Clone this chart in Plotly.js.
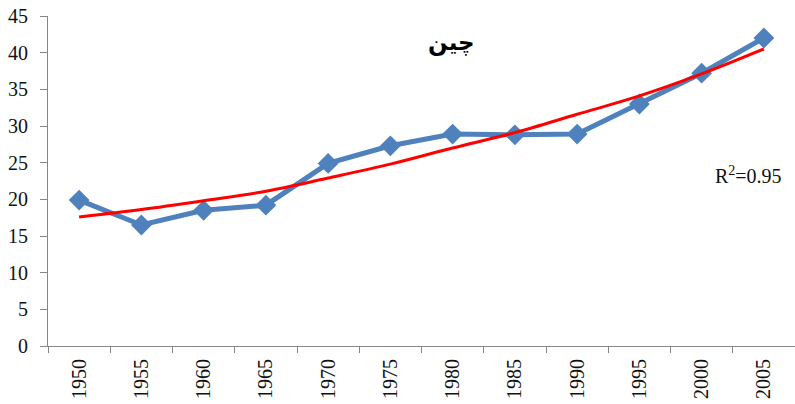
<!DOCTYPE html>
<html>
<head>
<meta charset="utf-8">
<script src="https://cdn.plot.ly/plotly-3.0.1.min.js"></script>
<style>html,body{margin:0;padding:0;background:#fff;}#chart{width:795px;height:404px;}</style>
</head>
<body>
<div id="chart"></div>
<script>
const years = ['1950','1955','1960','1965','1970','1975','1980','1985','1990','1995','2000','2005'];
const values = [19.9, 16.5, 18.5, 19.2, 24.9, 27.3, 28.9, 28.8, 28.9, 33.0, 37.2, 42.0];
const trend = [17.6, 18.6, 19.8, 21.1, 22.9, 24.8, 27.0, 29.1, 31.6, 34.1, 37.1, 40.5];
const titleText = 'چین';
const r2Text = 'R<sup>2</sup>=0.95';

const serif = 'Liberation Serif, Times New Roman, serif';

const data = [
  {
    x: years, y: values, type: 'scatter', mode: 'lines+markers',
    line: {color: '#4F81BD', width: 5},
    marker: {symbol: 'diamond', size: 16, color: '#4F81BD'},
    hoverinfo: 'x+y'
  },
  {
    x: years, y: trend, type: 'scatter', mode: 'lines',
    line: {color: '#FF0000', width: 3, shape: 'spline'},
    hoverinfo: 'skip'
  }
];

const layout = {
  width: 795, height: 404,
  margin: {l: 48, r: 0, t: 16, b: 58},
  paper_bgcolor: '#fff', plot_bgcolor: '#fff',
  showlegend: false,
  xaxis: {
    type: 'category', range: [-0.5, 11.5],
    showgrid: false, zeroline: false,
    showline: true, linecolor: '#868686', linewidth: 1,
    ticks: 'outside', tickson: 'boundaries', ticklen: 6, tickcolor: '#868686',
    tickangle: -90, ticklabelstandoff: 4,
    tickfont: {family: serif, size: 20, color: '#111'}
  },
  yaxis: {
    range: [0, 45], dtick: 5, tick0: 0,
    showgrid: false, zeroline: false,
    showline: true, linecolor: '#868686', linewidth: 1,
    ticks: 'outside', ticklen: 7, tickcolor: '#868686',
    ticklabelstandoff: 8,
    tickfont: {family: serif, size: 20, color: '#111'}
  },
  annotations: [
    {
      text: '<b>' + titleText + '</b>', xref: 'paper', yref: 'paper',
      x: (452 - 48) / 747, y: (346 - 43) / 330, xanchor: 'center', yanchor: 'middle',
      showarrow: false,
      font: {family: 'DejaVu Sans, serif', size: 23, color: '#000'}
    },
    {
      text: r2Text, xref: 'paper', yref: 'paper',
      x: (748 - 48) / 747, y: (346 - 175) / 330, xanchor: 'center', yanchor: 'middle',
      showarrow: false,
      font: {family: serif, size: 20, color: '#111'}
    }
  ]
};

Plotly.newPlot('chart', data, layout, {displayModeBar: false, staticPlot: true});
</script>
</body>
</html>
